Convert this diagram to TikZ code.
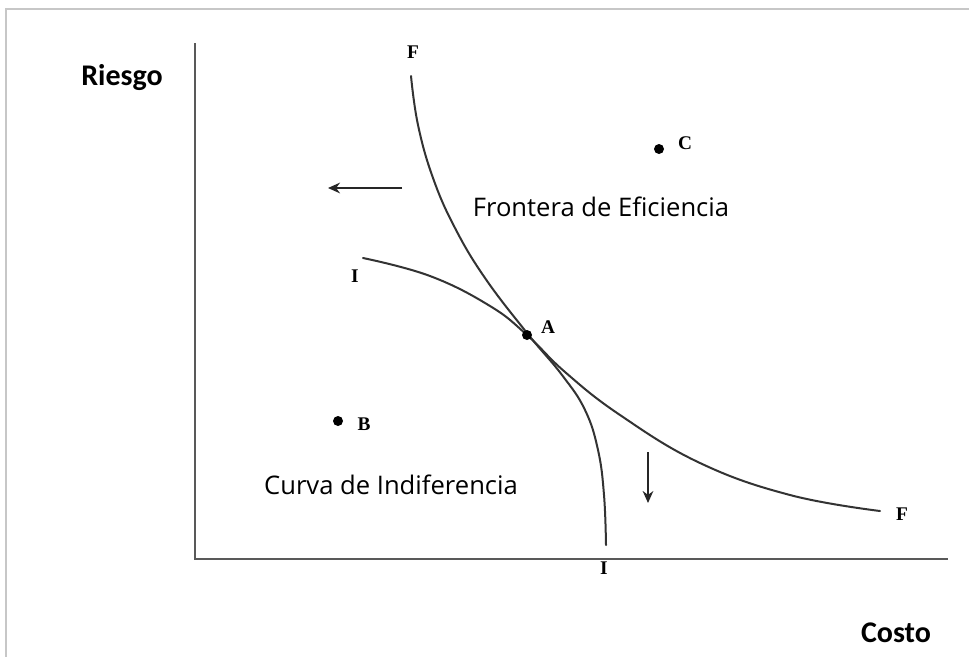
\documentclass[tikz,border=0pt]{standalone}
\usepackage{fontspec}
\setmainfont{Liberation Serif}
\newfontfamily\labfont{Open Sans}
\newfontfamily\axfont{Carlito}
\usetikzlibrary{arrows.meta}
\begin{document}
\begin{tikzpicture}[x=0.75pt,y=-0.75pt,
  curve/.style={line width=1.5pt, draw=black!80, line cap=round},
  axisline/.style={line width=1.8pt, draw=black!65},
  dot/.style={circle, fill=black, inner sep=0pt, minimum size=7.5pt},
  ptlabel/.style={font=\bfseries\fontsize{14.5}{16}\selectfont, inner sep=0pt},
  axlabel/.style={font=\axfont\bfseries\fontsize{22.5}{26}\selectfont, inner sep=0pt},
  curvelabel/.style={font=\labfont\fontsize{19.2}{23}\selectfont, inner sep=0pt},
  frameline/.style={line width=1.5pt, draw=black!22},
  move/.style={-{Stealth[length=9pt,width=8pt]}, line width=1.6pt, draw=black!85}]
\useasboundingbox (0,0) rectangle (969,657);
\fill[white] (0,0) rectangle (969,657);
% frame (top and left)
\draw[frameline] (969,9) -- (6,9) -- (6,657);
% axes
\coordinate (ytop) at (195,43);
\coordinate (orig) at (195,559);
\coordinate (xend) at (948,559);
\draw[axisline] (ytop) -- (orig) -- (xend);
% curves
\draw[curve] plot[smooth, tension=0.7] coordinates {(411,76) (418,125) (433,178) (455,228) (485,278) (527,333) (562,375) (585,410) (598,450) (604,495) (606,545)};
\draw[curve] plot[smooth, tension=0.7] coordinates {(363,258) (430,276) (490,306) (527,335) (565,372) (620,415) (700,463) (790,495) (880,511)};
% arrows
\coordinate (la1) at (402,188);
\coordinate (la2) at (328,188);
\draw[move] (la1) -- (la2);
\coordinate (da1) at (648,452);
\coordinate (da2) at (648,503);
\draw[move, line width=1.2pt] (da1) -- (da2);
% points
\node[dot] (A) at (527,335) {};
\node[dot] (B) at (338,421) {};
\node[dot] (C) at (659,149) {};
\node[ptlabel] (lA) at (548,327) {A};
\node[ptlabel] (lB) at (364,424) {B};
\node[ptlabel] (lC) at (685,143) {C};
% curve end labels
\node[ptlabel] (F1) at (413,52) {F};
\node[ptlabel] (I1) at (355,276) {I};
\node[ptlabel] (I2) at (604,568) {I};
\node[ptlabel] (F2) at (902,514) {F};
% texts
\node[axlabel] (riesgo) at (122,78) {Riesgo};
\node[axlabel] (costo) at (896,633) {Costo};
\node[curvelabel] (front) at (601,207) {Frontera de Eficiencia};
\node[curvelabel] (indif) at (391,485) {Curva de Indiferencia};
\end{tikzpicture}
\end{document}
